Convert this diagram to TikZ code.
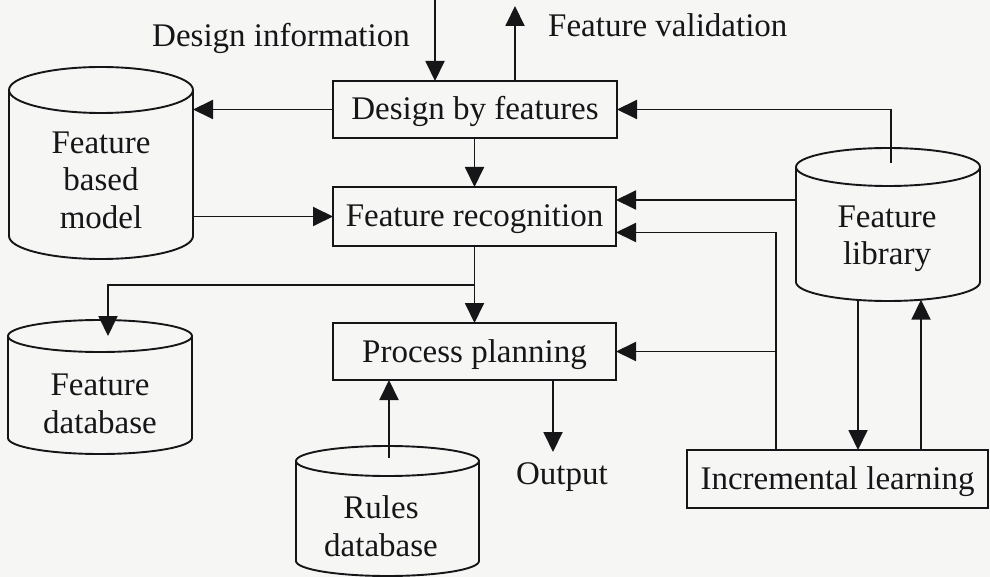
\documentclass[tikz,border=0pt]{standalone}
\usepackage{fontspec}
\setmainfont{Liberation Serif}
\usetikzlibrary{arrows.meta}

\definecolor{paper}{RGB}{246,247,245}
\definecolor{ink}{RGB}{22,22,24}

\newcommand\labelfont{\fontsize{33}{37.5}\selectfont}

\tikzset{
  stroke/.style={draw=ink, line width=1.9pt},
  box/.style={stroke, inner sep=0pt, outer sep=0pt, font=\labelfont, text=ink,
    text height=21pt, text depth=0pt},
  drumbody/.style={inner sep=0pt, outer sep=0pt},
  drumtext/.style={font=\labelfont, align=center, text=ink, inner sep=0pt},
  lbl/.style={font=\labelfont, text=ink, inner sep=0pt},
  arr/.style={draw=ink, line width=1.9pt, -{Triangle[length=20pt,width=19pt]}}
}

% \drum{name}{centre x}{top y}{bottom y}{x radius}{y radius}
\newcommand\drum[6]{%
  \node[drumbody, minimum width={2*#5*1pt}, minimum height={(#4-#3)*1pt}]
    (#1) at ({#2},{-(#3+#4)/2}) {};
  \draw[stroke] (#1.north west) -- (#1.south west)
    arc[start angle=180, end angle=360, x radius=#5pt, y radius=#6pt]
    -- (#1.north east);
  \draw[stroke] (#1.north) ellipse[x radius=#5pt, y radius=#6pt];
}

\begin{document}
\begin{tikzpicture}[x=1pt, y=1pt]
  \fill[paper] (0,0) rectangle (990,-577);
  \path[use as bounding box] (0,0) rectangle (990,-577);

  % process boxes
  \node[box, minimum width=284pt, minimum height=57pt] (dbf) at (475,-109.5) {Design by features};
  \node[box, minimum width=283pt, minimum height=59pt] (fr)  at (474.5,-216.5) {Feature recognition};
  \node[box, minimum width=283pt, minimum height=57pt] (pp)  at (474.5,-351.5) {Process planning};
  \node[box, minimum width=301pt, minimum height=58pt] (il)  at (837.5,-479) {Incremental learning};

  % data stores
  \drum{fbm}{101}{90}{236}{92}{23}
  \node[drumtext] (fbmt) at (101,-180) {Feature\\based\\model};
  \drum{fdb}{100}{336}{438}{92}{16}
  \node[drumtext] (fdbt) at (100,-404) {Feature\\database};
  \drum{flib}{888}{167}{282}{92}{19}
  \node[drumtext] (flibt) at (887,-239) {Feature\\library};
  \drum{rdb}{387.5}{461}{561}{91.5}{15}
  \node[drumtext] (rdbt) at (381,-526) {Rules\\database};

  % free labels
  \node[lbl, anchor=base west] (dinl) at (152,-47) {Design information};
  \node[lbl, anchor=base west] (fvl)  at (548,-37) {Feature validation};
  \node[lbl, anchor=base] (out) at (562,-484) {Output};

  \coordinate (din)    at (435,0);
  \coordinate (fval)   at (515,-6);
  \coordinate (outtip) at (553,-452);
  \coordinate (split)  at (474.5,-285);

  % design input and validation output
  \draw[arr] (din) -- (din |- dbf.north);
  \draw[arr] (fval |- dbf.north) -- (fval);

  % main chain
  \draw[arr] (dbf.west) -- (dbf.west -| fbm.east);
  \draw[arr] (fbm.east |- fr.west) -- (fr.west);
  \draw[arr] (dbf.south -| fr.north) -- (fr.north);
  \draw[arr] (fr.south) -- (pp.north);
  \draw[arr] (split) -| ([xshift=8pt]fdb.north);
  \draw[arr] ([xshift=1.5pt,yshift=3pt]rdb.north) -- ([xshift=1.5pt]rdb.north |- pp.south);
  \draw[arr] (pp.south -| outtip) -- (outtip);

  % feature library links
  \draw[arr] ([xshift=3pt,yshift=4pt]flib.north) |- (dbf.east);
  \draw[arr] ([yshift=16.5pt]fr.east -| flib.west) -- ([yshift=16.5pt]fr.east);

  % incremental learning feedback
  \draw[arr] ([xshift=-61.5pt]il.north) |- ([yshift=-16pt]fr.east);
  \draw[arr] (pp.east -| 776,0) -- (pp.east);
  \draw[arr] ([xshift=-30pt,yshift=-18pt]flib.south) -- ([xshift=-30pt]flib.south |- il.north);
  \draw[arr] ([xshift=33pt]flib.south |- il.north) -- ([xshift=33pt,yshift=-17.7pt]flib.south);
\end{tikzpicture}
\end{document}
